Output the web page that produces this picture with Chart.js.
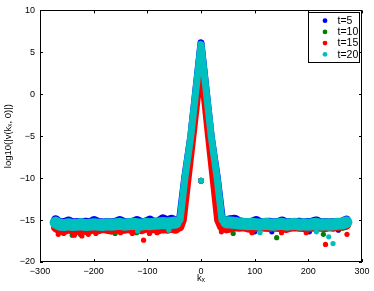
<!DOCTYPE html>
<html><head><meta charset="utf-8">
<script src="https://cdn.jsdelivr.net/npm/chart.js@4.4.1/dist/chart.umd.min.js"></script>
<style>html,body{margin:0;padding:0;background:#fff}#wrap{width:374px;height:291px}</style>
</head><body><div id="wrap"><canvas id="c" width="374" height="291"></canvas></div>
<script>
const seriesNames = ['t=5', 't=10', 't=15', 't=20'];
const seriesColors = ['#0000ff', '#008000', '#ff0000', '#00bfbf'];
const xTicks = [-300, -200, -100, 0, 100, 200, 300];
const yTicks = [-20, -15, -10, -5, 0, 5, 10];

const kxLeft = [-271,-263,-255,-247,-239,-231,-223,-215,-207,-199,-191,-183,-175,-167,-159,-151,-143,-135,-127,-119,-111,-103,-95,-87,-79,-71,-63,-55,-47];
const kxRight = [47,55,63,71,79,87,95,103,111,119,127,135,143,151,159,167,175,183,191,199,207,215,223,231,239,247,255,263,271];

// noise floor, t=5
const floorT5Left = [-14.95,-15.35,-15.3,-15.1,-15.35,-15.3,-15.35,-15.25,-15.35,-15.05,-15.3,-15.35,-15.3,-15.35,-15.25,-15.05,-15.3,-15.35,-15.25,-15.05,-15.3,-15.25,-15.0,-15.3,-15.2,-14.85,-15.1,-14.9,-15.1];
const floorT5Right = [-15.1,-14.95,-14.9,-15.2,-15.3,-15.35,-15.25,-15.05,-15.35,-15.3,-15.25,-15.35,-15.3,-15.1,-15.35,-15.3,-15.35,-15.25,-15.35,-15.3,-15.25,-15.1,-15.35,-15.3,-15.35,-15.3,-15.35,-15.25,-15.0];
// noise floor, t=10
const floorT10Left = [-15.8,-15.9,-15.85,-15.8,-15.9,-15.75,-15.85,-15.8,-15.7,-15.8,-15.75,-15.7,-15.8,-15.75,-15.85,-15.7,-15.75,-15.8,-15.7,-15.75,-15.7,-15.8,-15.7,-15.75,-15.7,-15.65,-15.7,-15.6,-15.65];
const floorT10Right = [-15.7,-15.75,-15.8,-15.7,-15.75,-15.8,-15.7,-15.75,-15.8,-15.7,-15.75,-15.8,-15.85,-15.75,-15.8,-15.75,-15.7,-15.8,-15.75,-15.8,-15.7,-15.75,-15.8,-15.85,-15.75,-15.8,-15.7,-15.75,-15.6];
// noise floor, t=15
const floorT15Left = [-15.9,-16.2,-16.25,-16.05,-16.2,-16.25,-16.05,-16.25,-16.2,-16.0,-16.15,-16.0,-16.1,-16.2,-16.0,-16.15,-16.1,-16.0,-16.2,-16.0,-16.15,-15.95,-16.1,-16.0,-16.15,-15.95,-16.1,-16.0,-16.1];
const floorT15Right = [-16.05,-15.95,-15.8,-15.85,-15.8,-15.95,-16.0,-15.85,-15.8,-15.85,-15.9,-15.8,-15.85,-15.95,-16.0,-15.85,-15.8,-15.85,-15.9,-15.95,-15.85,-15.8,-15.85,-15.9,-15.8,-15.85,-15.75,-15.7,-15.6];
// noise floor, t=20
const floorT20Left = [-15.3,-15.55,-15.6,-15.5,-15.6,-15.55,-15.5,-15.6,-15.55,-15.5,-15.55,-15.6,-15.5,-15.55,-15.5,-15.45,-15.55,-15.5,-15.45,-15.5,-15.55,-15.45,-15.5,-15.45,-15.4,-15.35,-15.4,-15.35,-15.3];
const floorT20Right = [-15.25,-15.3,-15.35,-15.4,-15.45,-15.5,-15.45,-15.5,-15.55,-15.45,-15.5,-15.55,-15.5,-15.45,-15.55,-15.5,-15.45,-15.55,-15.5,-15.55,-15.5,-15.45,-15.55,-15.5,-15.55,-15.5,-15.45,-15.4,-15.25];

// central peak
const peakT5X = [-47,-40,-30.5,-19,0,19,30.5,40,47];
const peakT5Y = [-15.1,-15,-10,-5,6.15,-5,-10,-15,-15.1];
const peakT10X = [-47,-38,-29,-17,0,17,29,38,47];
const peakT10Y = [-15.7,-15,-10,-5,5.0,-5,-10,-15,-15.7];
const peakT15X = [-47,-38,-33,-15,0,14,31,37,47];
const peakT15Y = [-16.1,-15.9,-15,-5,3.5,-5,-15,-15.9,-16.05];
const peakT20X = [-47,-39,-30,-19,0,19,30,39,47];
const peakT20Y = [-15.3,-15,-10,-5,5.95,-5,-10,-15,-15.25];

// isolated points
const dotT5X = [-265,-236,100,132,202,256];
const dotT5Y = [-16.3,-16.2,-16.4,-16.4,-16.4,-16.2];
const dotT10X = [-240,-225,-160,-120,-70,60,141,228];
const dotT10Y = [-16.8,-16.7,-16.6,-16.5,-16.3,-16.6,-17.1,-16.7];
const dotT15X = [-266,-256,-236,-222,-210,-196,-150,-128,-107,-96,-82,38,95,150,196,232,272];
const dotT15Y = [-16.7,-16.6,-16.8,-16.9,-16.7,-16.6,-16.5,-16.6,-17.4,-16.6,-16.5,-16.4,-16.5,-16.5,-16.5,-17.9,-16.7];
const dotT20X = [-118,-60,110,215,238,246];
const dotT20Y = [-16.3,-16.2,-16.5,-16.4,-17.0,-17.8];

const zeroModeX = [0];
const zeroModeY = [-10.3];

const FONT = '"Liberation Sans", Arial, Helvetica, sans-serif';
const pts = (xs, ys) => xs.map((x, i) => ({x: x, y: ys[i]}));

const series = [
  {floorL: floorT5Left, floorR: floorT5Right, px: peakT5X, py: peakT5Y, dx: dotT5X, dy: dotT5Y, fw: 9},
  {floorL: floorT10Left, floorR: floorT10Right, px: peakT10X, py: peakT10Y, dx: dotT10X, dy: dotT10Y, fw: 9},
  {floorL: floorT15Left, floorR: floorT15Right, px: peakT15X, py: peakT15Y, dx: dotT15X, dy: dotT15Y, fw: 9},
  {floorL: floorT20Left, floorR: floorT20Right, px: peakT20X, py: peakT20Y, dx: dotT20X, dy: dotT20Y, fw: 12}
];

const datasets = [];
series.forEach((s, i) => {
  const col = seriesColors[i];
  const ord = 4 - i;
  const lineBase = {showLine: true, borderColor: col, backgroundColor: col, pointRadius: 0, pointHoverRadius: 0,
    borderCapStyle: 'round', borderJoinStyle: 'round', tension: 0, order: ord, label: seriesNames[i]};
  datasets.push(Object.assign({}, lineBase, {data: pts(kxLeft, s.floorL), borderWidth: s.fw}));
  datasets.push(Object.assign({}, lineBase, {data: pts(kxRight, s.floorR), borderWidth: s.fw}));
  datasets.push(Object.assign({}, lineBase, {data: pts(s.px, s.py), borderWidth: 7}));
  datasets.push({label: seriesNames[i], data: pts(s.dx, s.dy), showLine: false, pointRadius: 2.6, pointBorderWidth: 0,
    backgroundColor: col, borderColor: col, order: ord});
  datasets.push({label: seriesNames[i], data: pts(zeroModeX, zeroModeY), showLine: false, pointRadius: 3, pointBorderWidth: 0,
    backgroundColor: col, borderColor: col, order: ord});
});

const fmt = v => String(v).replace('-', '\u2212');

const framePlugin = {
  id: 'frame',
  afterDraw(chart) {
    const ctx = chart.ctx;
    const a = chart.chartArea;
    const xs = chart.scales.x, ys = chart.scales.y;
    ctx.save();
    ctx.strokeStyle = '#000';
    ctx.lineWidth = 1;
    ctx.strokeRect(Math.round(a.left) + 0.5, Math.round(a.top) + 0.5, Math.round(a.right - a.left) - 1, Math.round(a.bottom - a.top) - 1);
    ctx.beginPath();
    const tl = 3;
    xs.ticks.forEach(t => {
      const p = Math.round(xs.getPixelForValue(t.value)) + 0.5;
      ctx.moveTo(p, a.bottom); ctx.lineTo(p, a.bottom - tl);
      ctx.moveTo(p, a.top); ctx.lineTo(p, a.top + tl);
    });
    ys.ticks.forEach(t => {
      const p = Math.round(ys.getPixelForValue(t.value)) + 0.5;
      ctx.moveTo(a.left, p); ctx.lineTo(a.left + tl, p);
      ctx.moveTo(a.right, p); ctx.lineTo(a.right - tl, p);
    });
    ctx.stroke();
    // legend box
    const lx = 308.5, ly = 12.5, lw = 51, lh = 50;
    ctx.fillStyle = '#fff';
    ctx.fillRect(lx, ly, lw, lh);
    ctx.strokeStyle = '#000';
    ctx.strokeRect(lx, ly, lw, lh);
    ctx.font = '10.5px ' + FONT;
    ctx.textBaseline = 'middle';
    ctx.textAlign = 'left';
    seriesNames.forEach((name, i) => {
      const cy = 20.7 + i * 11.2;
      ctx.fillStyle = seriesColors[i];
      ctx.beginPath();
      ctx.arc(325, cy, 2.4, 0, Math.PI * 2);
      ctx.fill();
      ctx.fillStyle = '#000';
      ctx.fillText(name, 337.5, cy + 0.5);
    });
    ctx.restore();
  }
};

new Chart(document.getElementById('c'), {
  type: 'scatter',
  data: {datasets: datasets},
  options: {
    responsive: false,
    animation: false,
    events: [],
    layout: {padding: {top: 8, right: 12, left: 0, bottom: 0}},
    plugins: {legend: {display: false}, tooltip: {enabled: false}},
    scales: {
      x: {
        type: 'linear', position: 'bottom', min: -300, max: 300,
        afterBuildTicks: s => { s.ticks = xTicks.map(v => ({value: v})); },
        afterFit: s => { s.height = 29; },
        ticks: {autoSkip: false, maxRotation: 0, padding: 4, color: '#000', font: {family: FONT, size: 9}, callback: fmt},
        grid: {display: false, drawTicks: false},
        border: {display: false},
        title: {display: true, text: 'k\u2093', color: '#000', font: {family: FONT, size: 9.5}, padding: {top: 0, bottom: 7}}
      },
      y: {
        type: 'linear', position: 'left', min: -20, max: 10,
        afterBuildTicks: s => { s.ticks = yTicks.map(v => ({value: v})); },
        afterFit: s => { s.width = 40; },
        ticks: {autoSkip: false, padding: 5, color: '#000', font: {family: FONT, size: 9}, callback: fmt},
        grid: {display: false, drawTicks: false},
        border: {display: false},
        title: {display: true, text: 'log10(|v(k\u2093, 0)|)', color: '#000', font: {family: FONT, size: 9.5}, padding: {top: 3, bottom: 0}}
      }
    }
  },
  plugins: [framePlugin]
});
</script>
</body></html>
